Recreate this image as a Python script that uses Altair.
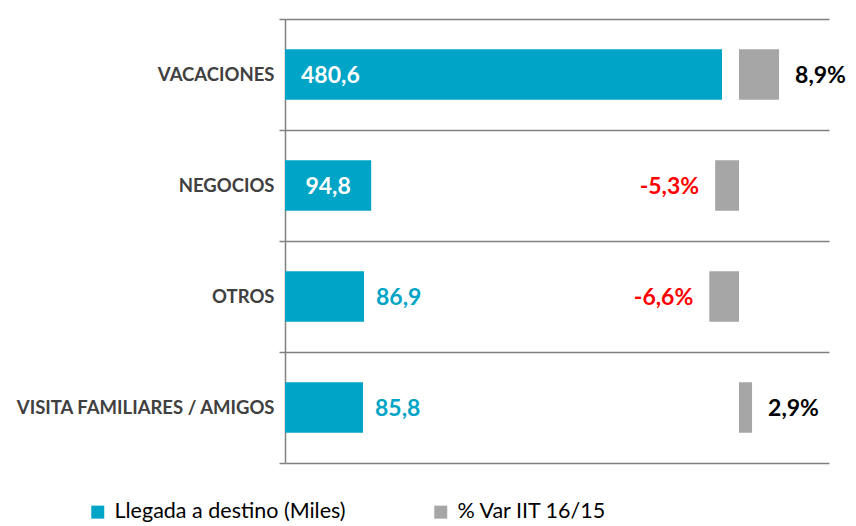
import altair as alt
import pandas as pd

categories = ["VACACIONES", "NEGOCIOS", "OTROS", "VISITA FAMILIARES / AMIGOS"]
llegadas = [480.6, 94.8, 86.9, 85.8]
var_pct = [8.9, -5.3, -6.6, 2.9]
series_names = ["Llegada a destino (Miles)", "% Var IIT 16/15"]

BLUE = "#00A4C6"
GRAY = "#A6A6A6"
LINE = "#808080"
FONT = "Lato"

def fmt(v):
    return f"{v:.1f}".replace(".", ",")

df = pd.DataFrame({
    "cat": categories,
    "value": llegadas,
    "pct": var_pct,
    "vlabel": [fmt(v) for v in llegadas],
    "plabel": [fmt(v) + "%" for v in var_pct],
})

ysc = alt.Scale(domain=categories, paddingInner=0, paddingOuter=0)
xblue = alt.Scale(domain=[0, 598.3], nice=False, zero=False)
xgray = alt.Scale(domain=[-100.9, 20], nice=False, zero=False)
colsc = alt.Scale(domain=series_names, range=[BLUE, GRAY])

base = alt.Chart(df)

y_axis = alt.Y("cat:N", scale=ysc, sort=categories, title=None,
               axis=alt.Axis(grid=True, tickBand="extent", gridColor=LINE, gridWidth=1.5,
                             domainColor=LINE, domainWidth=1.5, tickColor=LINE, tickWidth=1.5,
                             tickSize=6, labelFont=FONT, labelFontWeight="bold", labelFontSize=18.5,
                             labelColor="#404040", labelPadding=5, labelLimit=320))
y_plain = alt.Y("cat:N", scale=ysc, sort=categories, title=None)

legend = alt.Legend(title=None, orient="none", direction="horizontal", legendX=-198, legendY=482,
                    symbolType="square", symbolSize=169, symbolStrokeWidth=0, labelFont=FONT,
                    labelFontSize=21.5, labelColor="#000000", labelOffset=6, columnPadding=84,
                    labelLimit=400)

BAR_BAND = 0.455

blue_bars = base.transform_calculate(series=f"'{series_names[0]}'").mark_bar(
    height=alt.RelativeBandSize(band=BAR_BAND)).encode(
    x=alt.X("value:Q", scale=xblue, axis=None),
    y=y_axis,
    color=alt.Color("series:N", scale=colsc, legend=legend),
)
gray_bars = base.transform_calculate(series=f"'{series_names[1]}'").mark_bar(
    height=alt.RelativeBandSize(band=BAR_BAND)).encode(
    x=alt.X("pct:Q", scale=xgray, axis=None),
    y=y_plain,
    color=alt.Color("series:N", scale=colsc, legend=legend),
)

txt = dict(font=FONT, fontWeight="bold", fontSize=23, baseline="middle", dy=1)

lab_base_in = base.transform_filter(alt.datum.cat == categories[0]).transform_calculate(
    zero="0").mark_text(align="left", dx=16, color="white", **txt).encode(
    x=alt.X("zero:Q", scale=xblue, axis=None), y=y_plain, text="vlabel:N")
lab_center = base.transform_filter(alt.datum.cat == categories[1]).transform_calculate(
    mid="datum.value / 2").mark_text(align="center", color="white", **txt).encode(
    x=alt.X("mid:Q", scale=xblue, axis=None), y=y_plain, text="vlabel:N")
lab_out = base.transform_filter(alt.FieldOneOfPredicate(field="cat", oneOf=categories[2:])).mark_text(
    align="left", dx=12, color=BLUE, **txt).encode(
    x=alt.X("value:Q", scale=xblue, axis=None), y=y_plain, text="vlabel:N")

pos_lab = base.transform_filter(alt.datum.pct >= 0).mark_text(
    align="left", dx=16, color="black", **txt).encode(
    x=alt.X("pct:Q", scale=xgray, axis=None), y=y_plain, text="plabel:N")
neg_lab = base.transform_filter(alt.datum.pct < 0).mark_text(
    align="right", dx=-16, color="#FF0000", **txt).encode(
    x=alt.X("pct:Q", scale=xgray, axis=None), y=y_plain, text="plabel:N")

chart = alt.layer(blue_bars, gray_bars, lab_base_in, lab_center, lab_out, pos_lab, neg_lab).resolve_scale(
    x="independent"
).properties(
    width=544, height=444,
    autosize=alt.AutoSizeParams(type="none"),
    padding={"left": 277, "top": 11, "right": 19, "bottom": 62},
    background="white",
).configure_view(strokeWidth=0)

chart.save("out.html", embed_options={"renderer": "svg", "actions": False})
